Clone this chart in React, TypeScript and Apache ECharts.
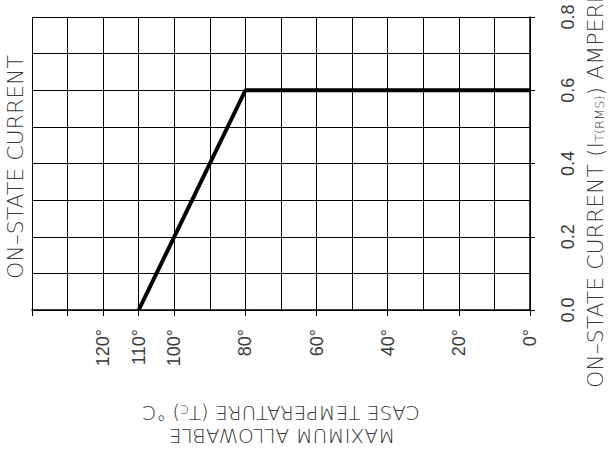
import React, { useEffect, useRef } from "react";
import * as echarts from "echarts";

const curveTemp = [110, 80, 0];
const curveCurrent = [0, 0.6, 0.6];
const xLabelValues = [0, 20, 40, 60, 80, 100, 110, 120];
const xTickValues = [0, 20, 40, 60, 80, 100, 110, 120, 130, 140];
const yLabelValues = [0, 0.2, 0.4, 0.6, 0.8];
const leftTitle = "ON\u2013STATE CURRENT";
const bottomTitle1 = "CASE TEMPERATURE (T{sub|C}) \u00B0C";
const bottomTitle2 = "MAXIMUM ALLOWABLE";
const rightTitle = "ON\u2013STATE CURRENT (I{sub|T(RMS)}) AMPERES";

const TXT = "#3a3a3a";
const FONT = "'DejaVu Sans', sans-serif";
const NUMFONT = "'Liberation Sans', Arial, sans-serif";

export default function App() {
  const ref = useRef<HTMLDivElement>(null);
  useEffect(() => {
    if (!ref.current) return;
    const chart = echarts.init(ref.current, null, { renderer: "svg" });
    const data = curveTemp.map((t, i) => [t, curveCurrent[i]]);
    const gridLine = { show: true, lineStyle: { color: "#000", width: 1 } };
    chart.setOption({
      animation: false,
      backgroundColor: "#fff",
      grid: { left: 32, right: 83, top: 17, bottom: 145 },
      xAxis: [
        {
          type: "value",
          min: 0,
          max: 140,
          interval: 10,
          inverse: true,
          axisLine: { show: true, lineStyle: { color: "#000", width: 1.5 } },
          axisTick: { show: true, length: 6, customValues: xTickValues, lineStyle: { color: "#000" } },
          splitLine: { show: false },
          axisLabel: {
            customValues: xLabelValues,
            rotate: 90,
            margin: 19,
            color: TXT,
            fontFamily: NUMFONT,
            fontSize: 18,
            formatter: (v: number) => v + "\u00B0",
          },
        },
        {
          type: "value",
          min: 0,
          max: 140,
          interval: 10,
          inverse: true,
          position: "bottom",
          axisLine: { show: false },
          axisTick: { show: false },
          axisLabel: { show: false },
          splitLine: gridLine,
        },
      ],
      yAxis: [
        {
          type: "value",
          position: "right",
          min: 0,
          max: 0.8,
          interval: 0.1,
          axisLine: { show: true, lineStyle: { color: "#000", width: 1.5 } },
          axisTick: { show: true, length: 5, customValues: yLabelValues, lineStyle: { color: "#000" } },
          splitLine: { show: false },
          axisLabel: {
            customValues: yLabelValues,
            rotate: 90,
            margin: 29,
            color: TXT,
            fontFamily: NUMFONT,
            fontSize: 18,
            formatter: (v: number) => v.toFixed(1),
          },
        },
        {
          type: "value",
          position: "right",
          min: 0,
          max: 0.8,
          interval: 0.1,
          axisLine: { show: false },
          axisTick: { show: false },
          axisLabel: { show: false },
          splitLine: gridLine,
        },
      ],
      series: [
        {
          type: "line",
          data,
          xAxisIndex: 0,
          yAxisIndex: 0,
          symbol: "none",
          z: 5,
          lineStyle: { color: "#000", width: 4 },
        },
      ],
      graphic: [
        {
          type: "text",
          x: 15,
          y: 167,
          rotation: Math.PI / 2,
          style: {
            text: leftTitle,
            fill: TXT,
            font: `200 22px ${FONT}`,
            align: "center",
            verticalAlign: "middle",
          },
        },
        {
          type: "text",
          x: 595,
          y: 388,
          rotation: Math.PI / 2,
          style: {
            text: rightTitle,
            fill: TXT,
            font: `200 22px ${FONT}`,
            align: "left",
            verticalAlign: "middle",
            rich: {
              sub: { fontSize: 13, fontFamily: FONT, fontWeight: 200, fill: TXT, verticalAlign: "bottom", padding: [9, 0, 0, 0] },
            },
          },
        },
        {
          type: "text",
          x: 281,
          y: 413,
          rotation: Math.PI,
          style: {
            text: bottomTitle1,
            fill: TXT,
            font: `200 20px ${FONT}`,
            align: "center",
            verticalAlign: "middle",
            rich: {
              sub: { fontSize: 12, fontFamily: FONT, fontWeight: 200, fill: TXT, verticalAlign: "bottom", padding: [7, 0, 0, 0] },
            },
          },
        },
        {
          type: "text",
          x: 282,
          y: 436,
          rotation: Math.PI,
          style: {
            text: bottomTitle2,
            fill: TXT,
            font: `200 20px ${FONT}`,
            align: "center",
            verticalAlign: "middle",
          },
        },
      ],
    });
    return () => chart.dispose();
  }, []);
  return (
    <div
      ref={ref}
      style={{ position: "fixed", left: 0, top: 0, width: 613, height: 455, background: "#fff" }}
    />
  );
}
